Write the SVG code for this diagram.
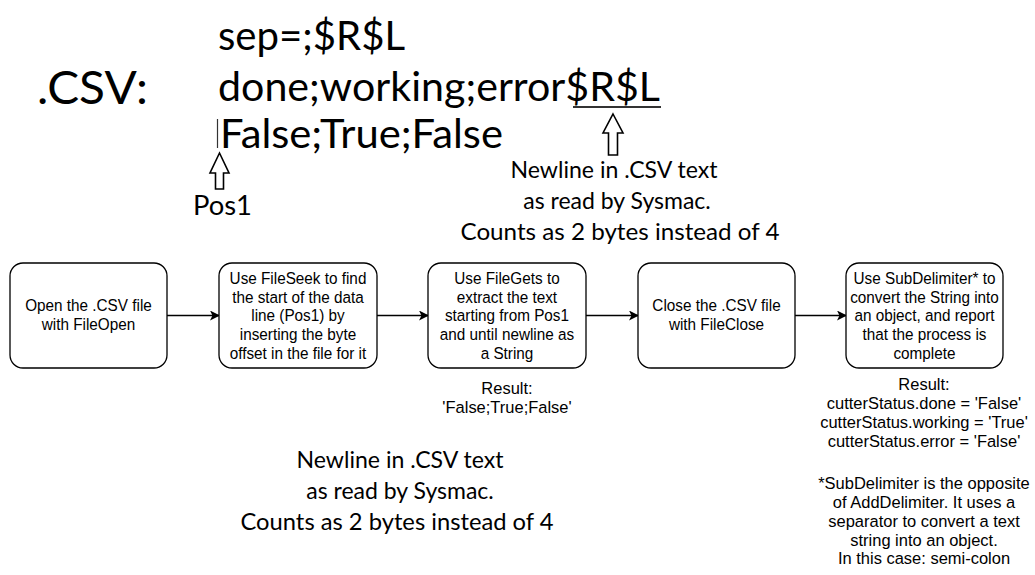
<svg xmlns="http://www.w3.org/2000/svg" width="1035" height="575" viewBox="0 0 1035 575">
<defs>
<style>
.big{font-family:Lato,"Liberation Sans",sans-serif;fill:#000}
.box{fill:#fff;stroke:#000;stroke-width:1.3}
.t{font-family:"Liberation Sans",Arial,sans-serif;font-size:17px;fill:#000;text-anchor:middle}
.r{font-family:"Liberation Sans",Arial,sans-serif;font-size:17px;fill:#000;text-anchor:middle}
.edge{stroke:#000;stroke-width:1.3;fill:none;marker-end:url(#ah)}
.hollow{fill:#fff;stroke:#000;stroke-width:1.6}
</style>
<marker id="ah" viewBox="0 0 10 10" refX="9" refY="5" markerWidth="10" markerHeight="10" markerUnits="userSpaceOnUse" orient="auto">
<path d="M0,0 L10,5 L0,10 L2.5,5 Z" fill="#000"/>
</marker>
</defs>
<rect width="1035" height="575" fill="#fff"/>

<g id="csv-text">
<text class="big" x="37" y="104" font-size="47" textLength="111" lengthAdjust="spacingAndGlyphs">.CSV:</text>
<text class="big" x="218" y="50" font-size="41" textLength="187" lengthAdjust="spacingAndGlyphs">sep=;$R$L</text>
<text class="big" x="218" y="101" font-size="41" textLength="442" lengthAdjust="spacingAndGlyphs">done;working;error$R$L</text>
<text class="big" x="220" y="148" font-size="41" textLength="283" lengthAdjust="spacingAndGlyphs">False;True;False</text>
<line x1="573" y1="107" x2="661" y2="107" stroke="#333" stroke-width="2"/>
<line x1="217.5" y1="119" x2="217.5" y2="148" stroke="#333" stroke-width="1.2"/>
</g>

<g id="pos1-marker">
<polygon class="hollow" points="219.5,153 229,173 223.5,173 223.5,189 215.5,189 215.5,173 210,173"/>
<text class="big" x="193" y="215" font-size="26" textLength="59" lengthAdjust="spacingAndGlyphs">Pos1</text>
</g>

<g id="newline-note-top">
<polygon class="hollow" points="613,114 623,133 617.5,133 617.5,155 608.5,155 608.5,133 603,133"/>
<text class="big" x="614" y="178" font-size="23" text-anchor="middle" textLength="207" lengthAdjust="spacingAndGlyphs">Newline in .CSV text</text>
<text class="big" x="617" y="209" font-size="23" text-anchor="middle">as read by Sysmac.</text>
<text class="big" x="620" y="240" font-size="23" text-anchor="middle" textLength="319" lengthAdjust="spacingAndGlyphs">Counts as 2 bytes instead of 4</text>
</g>

<g id="newline-note-bottom">
<text class="big" x="400" y="468" font-size="23" text-anchor="middle" textLength="207" lengthAdjust="spacingAndGlyphs">Newline in .CSV text</text>
<text class="big" x="400" y="499" font-size="23" text-anchor="middle">as read by Sysmac.</text>
<text class="big" x="397" y="530" font-size="23" text-anchor="middle" textLength="313" lengthAdjust="spacingAndGlyphs">Counts as 2 bytes instead of 4</text>
</g>

<g id="connectors">
<line class="edge" x1="167" y1="315.5" x2="219" y2="315.5"/>
<line class="edge" x1="377" y1="315.5" x2="428" y2="315.5"/>
<line class="edge" x1="586" y1="315.5" x2="638" y2="315.5"/>
<line class="edge" x1="795" y1="315.5" x2="846" y2="315.5"/>
</g>

<g id="node-open">
<rect class="box" x="10" y="263" width="157" height="105" rx="13"/>
<g transform="scale(0.9,1)">
<text class="t" x="98.33" y="311.5">Open the .CSV file</text>
<text class="t" x="98.33" y="330.2">with FileOpen</text>
</g>
</g>

<g id="node-seek">
<rect class="box" x="219" y="263" width="158" height="105" rx="13"/>
<g transform="scale(0.9,1)">
<text class="t" x="331.11" y="284">Use FileSeek to find</text>
<text class="t" x="331.11" y="302.7">the start of the data</text>
<text class="t" x="331.11" y="321.4">line (Pos1) by</text>
<text class="t" x="331.11" y="340.1">inserting the byte</text>
<text class="t" x="331.11" y="358.8">offset in the file for it</text>
</g>
</g>

<g id="node-gets">
<rect class="box" x="428" y="263" width="158" height="105" rx="13"/>
<g transform="scale(0.9,1)">
<text class="t" x="563.33" y="284">Use FileGets to</text>
<text class="t" x="563.33" y="302.7">extract the text</text>
<text class="t" x="563.33" y="321.4">starting from Pos1</text>
<text class="t" x="563.33" y="340.1">and until newline as</text>
<text class="t" x="563.33" y="358.8">a String</text>
</g>
</g>

<g id="node-close">
<rect class="box" x="638" y="263" width="157" height="105" rx="13"/>
<g transform="scale(0.9,1)">
<text class="t" x="796.11" y="311.5">Close the .CSV file</text>
<text class="t" x="796.11" y="330.2">with FileClose</text>
</g>
</g>

<g id="node-subdelimiter">
<rect class="box" x="846" y="263" width="157" height="105" rx="13"/>
<g transform="scale(0.9,1)">
<text class="t" x="1027.22" y="284">Use SubDelimiter* to</text>
<text class="t" x="1027.22" y="302.7">convert the String into</text>
<text class="t" x="1027.22" y="321.4">an object, and report</text>
<text class="t" x="1027.22" y="340.1">that the process is</text>
<text class="t" x="1027.22" y="358.8">complete</text>
</g>
</g>

<g id="result-gets" transform="scale(0.97,1)">
<text class="r" x="522.68" y="394.5">Result:</text>
<text class="r" x="522.68" y="413.2">'False;True;False'</text>
</g>

<g id="result-subdelimiter" transform="scale(0.97,1)">
<text class="r" x="952.58" y="390.5">Result:</text>
<text class="r" x="952.58" y="409.2">cutterStatus.done = 'False'</text>
<text class="r" x="952.58" y="427.9">cutterStatus.working = 'True'</text>
<text class="r" x="952.58" y="446.6">cutterStatus.error = 'False'</text>
</g>

<g id="footnote" transform="scale(0.97,1)">
<text class="r" x="952.58" y="489.5">*SubDelimiter is the opposite</text>
<text class="r" x="952.58" y="508.2">of AddDelimiter. It uses a</text>
<text class="r" x="952.58" y="526.9">separator to convert a text</text>
<text class="r" x="952.58" y="545.6">string into an object.</text>
<text class="r" x="952.58" y="564.3">In this case: semi-colon</text>
</g>
</svg>
